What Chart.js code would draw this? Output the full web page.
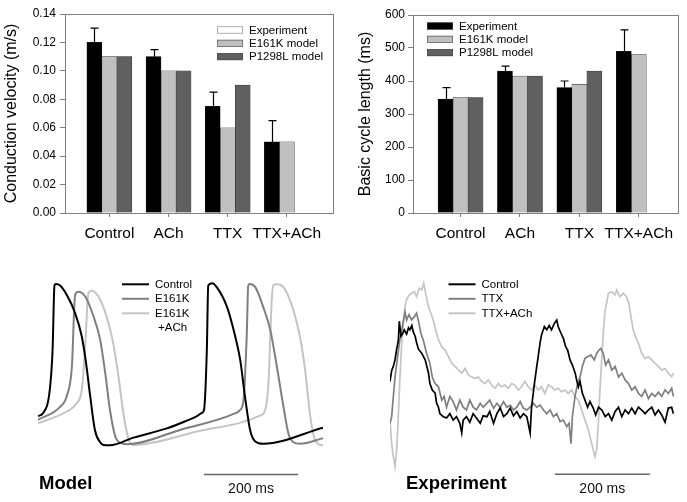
<!DOCTYPE html>
<html>
<head>
<meta charset="utf-8">
<script src="https://cdn.jsdelivr.net/npm/chart.js@4.4.0/dist/chart.umd.min.js"></script>
<style>
  html, body { margin: 0; padding: 0; background: #fff; }
  #wrap { position: relative; width: 687px; height: 502px; overflow: hidden; }
  #wrap canvas { position: absolute; }
</style>
</head>
<body>
<div id="wrap">
  <canvas id="cvChart" width="345" height="250" style="left:0;top:0"></canvas>
  <canvas id="bclChart" width="342" height="250" style="left:345px;top:0"></canvas>
  <canvas id="modelChart" width="345" height="252" style="left:0;top:250px"></canvas>
  <canvas id="expChart" width="342" height="252" style="left:345px;top:250px"></canvas>
</div>
<script>
// ---- données ----
const groups = ['Control', 'ACh', 'TTX', 'TTX+ACh'];
const seriesNames = ['Experiment', 'E161K model', 'P1298L model'];

// vitesse de conduction (m/s)
const cvExp = [0.12, 0.11, 0.075, 0.05];
const cvExpErr = [0.01, 0.005, 0.01, 0.015];
const cvE161K = [0.11, 0.10, 0.06, 0.05];
const cvP1298L = [0.11, 0.10, 0.09, null];
const cvTicks = [0, 0.02, 0.04, 0.06, 0.08, 0.10, 0.12, 0.14];

// longueur de cycle (ms)
const bclExp = [345, 430, 380, 490];
const bclExpErr = [35, 15, 20, 65];
const bclE161K = [350, 415, 390, 480];
const bclP1298L = [350, 415, 430, null];
const bclTicks = [0, 100, 200, 300, 400, 500, 600];

// potentiels d'action modèle [ms, mV]
const modelNames = ['Control', 'E161K', 'E161K\n+ACh'];
const apControl = [[0,-61],[11,-59],[25,-44],[31,-18],[35,24],[38,25],[47,24],[61,18],[79,6],[93,-9],[102,-26],[111,-48],[121,-70],[132,-78],[143,-80],[153,-80],[203,-75],[274,-69],[316,-64],[338,-61],[348,-59],[353,-57],[359,-18],[362,24],[370,25.5],[380,23],[402,10],[416,-5],[430,-24.5],[440,-48],[451,-70],[462,-77.5],[479,-79],[606,-68.5]];
const apE161K = [[0,-63.5],[47,-55],[61,-48],[72,-29],[79,18],[86,20],[100,17],[118,4],[132,-11],[143,-33],[153,-57],[164,-74],[175,-78.5],[189,-79.3],[302,-70],[416,-59.6],[430,-57],[437,-50.5],[444,-7],[447,24],[451,25],[462,23],[479,10],[494,-5],[508,-29],[522,-55],[533,-73],[543,-78],[557,-79],[606,-75.4]];
const apE161KACh = [[0,-65.7],[61,-58],[82,-52.6],[93,-44],[100,-18],[107,19],[114,20.7],[128,17],[146,3.7],[160,-13.6],[171,-35],[181.5,-59],[192,-75.4],[203,-79.8],[338,-71],[472,-60.7],[483,-57],[490,-39.6],[497,14.6],[500.6,24.4],[508,24.8],[522,23],[543,8],[557,-9.3],[568,-31],[579,-61.4],[589,-76.5],[606,-80.4]];

// signaux optiques expérience [ms, fluorescence normalisée %]
const expNames = ['Control', 'TTX', 'TTX+ACh'];
const expControl = [[0,44],[3.5,49],[7,51],[10.5,54],[14,59],[17.5,63],[19.6,72],[23,65],[26,66],[30,68],[35,66],[39,69],[42,68],[46,70],[49,67],[53,65],[56,62],[60,59],[67,57],[74,54],[81,48],[84,43],[89,40],[95,38.5],[98,34],[102,32],[105,29],[112,27.6],[119,27],[126,29],[133,26],[140,27.6],[147,24.5],[151,20],[154,26],[161,27.6],[168,25],[175,29],[182,27],[190,24.5],[196,28],[204,27.6],[210,30],[218,24.5],[225,29],[232,31.6],[239,27.6],[246,29],[253,31.6],[260,28],[267,30],[274,27],[281,29],[288,27.6],[295,20],[298,32],[304,43],[309,51],[312,55.5],[316,62],[319,65.6],[325,69.5],[330,68],[335,70],[340,68],[346,71],[351,72.5],[354,69.5],[360,66.4],[365,64],[370,60],[374,58.6],[379,54],[384,51.6],[390,47.7],[393,44.6],[396.5,41.5],[400,44],[405,38.5],[410.5,35.3],[416,32],[421,34.6],[428,31.5],[433,28.4],[439,32],[446,30.7],[453,27.6],[460,29],[467,26],[474,30],[481,32],[488,27.6],[495,30.7],[502,29],[509,31.6],[516,29],[523,32],[530,30.7],[537,29],[544,30.7],[551,32],[558,28.4],[565,30.7],[572,28.4],[579,25],[586,31.6],[593,32],[596.5,29]];
const expTTX = [[0,24.5],[3.5,27.6],[7,37],[10.5,46],[16,55.5],[21,64],[26,69.5],[31.6,76.4],[35,72.6],[40,75],[45.6,72.6],[51,74],[56,75.7],[60,72],[65,66.4],[70,63.3],[77,57],[84,52.4],[89,46],[95,43],[102,41.5],[109,35.3],[114,37],[119,32],[126,37],[133,34.6],[140,30.7],[147,35.3],[154,32],[161,30.7],[168,35.3],[175,32],[182,30.7],[190,33.8],[196,32],[204,33.8],[210,35.3],[218,31.5],[225,33.8],[232,32],[239,34.6],[246,32],[253,33],[260,30.7],[267,32],[274,34.6],[281,31.5],[288,30.7],[295,32],[302,33.8],[309,32],[316,33],[323,30.7],[330,29],[337,30.7],[344,27.6],[351,29],[358,25.3],[365,26],[372,23],[377,24.5],[381,15],[384,27.6],[389.5,37],[395,43],[400,46],[405,51],[410.5,54.7],[416,55.5],[423,56.3],[430,54],[435,57],[440,58.6],[444,59.4],[449,57],[454,51.6],[460,54],[467,49.3],[474,51],[481,46],[488,47.8],[495,44.7],[502,43],[509,40],[516,41.5],[523,38.4],[530,37],[537,40],[544,36],[551,38.4],[558,37],[565,39],[572,37],[579,40],[586,38.4],[593,40.8],[596.5,37]];
const expTTXACh = [[0,26],[3.5,15],[7,9],[10.5,4.3],[14,12],[17.5,27.6],[21,46],[24.6,61.7],[28,71],[31.6,78.8],[35,82],[40,84],[45.6,85],[51,85.7],[56,83.4],[61,87.3],[66.7,86.5],[71,89.6],[75,85],[81,78.8],[86,75.7],[91,72.6],[96,68],[102,63.3],[109,60],[116,58.6],[123,55.5],[130,52.4],[137,51],[144,49.3],[151,47.8],[158,50],[165,47],[172,46],[179,45.4],[186,46],[193,44],[200,43],[207,44.7],[214,42.3],[221,40.8],[228,43],[235,41.5],[242,42.3],[249,40.8],[256,43],[263,42.3],[270,40],[277,41.5],[284,44],[291,41.5],[298,40],[305,42.3],[312,40],[319,41.5],[326,38.4],[333,42.3],[340,41.5],[347,40],[354,40.8],[361,39.2],[368,40],[375,38.4],[382.5,40],[389.5,37],[396.5,35.3],[403.5,30.7],[410.5,26],[417.5,21.4],[423,16.7],[428,12],[431.6,9],[435,12],[438.6,24.5],[442,40],[445.6,54],[449,66.4],[452.6,77],[456,80.3],[459.6,85],[466.7,85.7],[473.7,84.2],[477,86.5],[484,83.4],[491,85],[498,83.4],[503,80.3],[507.4,74],[512,68],[517,64.8],[523,61.7],[530,57],[537,54.7],[544,55.5],[551,54],[558,52.4],[565,51],[572,49.3],[579,50],[586,47.8],[593,46.2],[596.5,47.8]];

// ---- styles ----
const FONT = '"Liberation Sans", Arial, Helvetica, sans-serif';
const AXIS_GREY = '#808080';
const BAR_COLORS = ['#000000', '#c0c0c0', '#606060'];
const TRACE_COLORS = ['#000000', '#7f7f7f', '#c4c4c4'];
Chart.defaults.font.family = FONT;
Chart.defaults.color = '#000';

function toXY(pairs) {
  return pairs.map(p => ({ x: p[0], y: p[1] }));
}

// cadre gris autour de la zone de tracé
const framePlugin = {
  id: 'frame',
  afterDraw(chart) {
    const a = chart.chartArea, ctx = chart.ctx;
    ctx.save();
    ctx.strokeStyle = AXIS_GREY;
    ctx.lineWidth = 1;
    ctx.strokeRect(Math.round(a.left) + 0.5, Math.round(a.top) + 0.5,
      Math.round(a.right - a.left), Math.round(a.bottom - a.top));
    ctx.restore();
  }
};

// barres d'erreur (vers le haut) sur la série Experiment
function errorBarPlugin(errs) {
  return {
    id: 'errbars',
    afterDatasetsDraw(chart) {
      const meta = chart.getDatasetMeta(0);
      const y = chart.scales.y, ctx = chart.ctx;
      ctx.save();
      ctx.strokeStyle = '#000';
      ctx.lineWidth = 1.2;
      meta.data.forEach((bar, i) => {
        const v = chart.data.datasets[0].data[i].y;
        const top = y.getPixelForValue(v + errs[i]);
        const x = Math.round(bar.x) + 0.5;
        ctx.beginPath();
        ctx.moveTo(x, bar.y);
        ctx.lineTo(x, top);
        ctx.moveTo(x - 4, top);
        ctx.lineTo(x + 4, top);
        ctx.stroke();
      });
      ctx.restore();
    }
  };
}

// légende à boîtes
function boxLegendPlugin(box, firstWhite) {
  return {
    id: 'boxlegend',
    afterDraw(chart) {
      const ctx = chart.ctx;
      ctx.save();
      ctx.font = '11.5px ' + FONT;
      ctx.textBaseline = 'middle';
      chart.data.datasets.forEach((ds, i) => {
        const cy = box.y + i * box.dy;
        ctx.fillStyle = (i === 0 && firstWhite) ? '#ffffff' : ds.backgroundColor;
        ctx.fillRect(box.x, cy - 3.5, box.w, 7);
        ctx.strokeStyle = (i === 0 && firstWhite) ? '#777' : '#444';
        ctx.lineWidth = 0.6;
        ctx.strokeRect(box.x + 0.3, cy - 3.2, box.w - 0.6, 6.4);
        ctx.fillStyle = '#000';
        ctx.fillText(ds.label, box.x + box.w + 6, cy + 0.5);
      });
      ctx.restore();
    }
  };
}

// légende à traits + étiquettes de panneau + barre d'échelle
function traceDecorPlugin(opt) {
  return {
    id: 'tracedecor',
    afterDraw(chart) {
      const ctx = chart.ctx, xs = chart.scales.x, ys = chart.scales.y;
      ctx.save();
      chart.data.datasets.forEach((ds, i) => {
        if (ds.isScale) return;
        const cy = opt.legY + i * opt.legDy;
        ctx.strokeStyle = ds.borderColor;
        ctx.lineWidth = 2;
        ctx.beginPath();
        ctx.moveTo(opt.legX, cy);
        ctx.lineTo(opt.legX + 27, cy);
        ctx.stroke();
        ctx.fillStyle = '#000';
        ctx.font = '11.5px ' + FONT;
        ctx.textBaseline = 'middle';
        const lines = ds.label.split('\n');
        ctx.fillText(lines[0], opt.legX + 33, cy + 0.5);
        if (lines[1]) ctx.fillText(lines[1], opt.legX + 36, cy + 0.5 + opt.legDy);
      });
      // titre du panneau
      ctx.font = 'bold 18.5px ' + FONT;
      ctx.textBaseline = 'alphabetic';
      ctx.textAlign = 'left';
      ctx.fillStyle = '#000';
      ctx.fillText(opt.title, opt.titleX, opt.titleY);
      // texte sous la barre d'échelle
      const midX = xs.getPixelForValue(opt.bar.start + opt.bar.len / 2);
      ctx.font = '14px ' + FONT;
      ctx.textAlign = 'center';
      ctx.fillStyle = '#111';
      ctx.fillText(opt.bar.len + ' ms', midX, opt.barTextY);
      ctx.restore();
    }
  };
}

function barChart(id, cfg) {
  const datasets = [cfg.exp, cfg.e161k, cfg.p1298l].map((vals, i) => ({
    label: seriesNames[i],
    data: vals.map((v, j) => ({ x: j + 1, y: v })),
    backgroundColor: BAR_COLORS[i],
    borderColor: '#222',
    borderWidth: 0.5,
    barThickness: 15
  }));
  return new Chart(document.getElementById(id), {
    type: 'bar',
    data: { datasets },
    options: {
      responsive: false,
      animation: false,
      layout: { padding: cfg.padding },
      plugins: { legend: { display: false }, tooltip: { enabled: false } },
      scales: {
        x: {
          type: 'linear',
          min: cfg.xMin,
          max: cfg.xMax,
          offset: false,
          afterBuildTicks: s => { s.ticks = groups.map((g, i) => ({ value: i + 1 })); },
          ticks: {
            callback: v => groups[v - 1] || '',
            font: { size: 15.5 },
            color: '#000',
            padding: 7,
            maxRotation: 0,
            autoSkip: false
          },
          grid: { drawOnChartArea: false, offset: false, tickLength: 4, color: AXIS_GREY },
          border: { color: AXIS_GREY },
          afterFit: s => { s.height = 37; }
        },
        y: {
          min: cfg.yTicks[0],
          max: cfg.yTicks[cfg.yTicks.length - 1],
          afterBuildTicks: s => { s.ticks = cfg.yTicks.map(v => ({ value: v })); },
          ticks: {
            callback: cfg.fmt,
            font: { size: 12 },
            color: '#000',
            padding: cfg.tickPad
          },
          grid: { drawOnChartArea: false, tickLength: 5, color: AXIS_GREY },
          border: { color: AXIS_GREY },
          title: {
            display: true,
            text: cfg.title,
            font: { size: 16 },
            color: '#000',
            padding: { top: cfg.titlePad, bottom: 0 }
          },
          afterFit: s => { s.width = cfg.yWidth; }
        }
      }
    },
    plugins: [framePlugin, errorBarPlugin(cfg.err), boxLegendPlugin(cfg.legend, cfg.whiteLegend)]
  });
}

barChart('cvChart', {
  exp: cvExp, e161k: cvE161K, p1298l: cvP1298L, err: cvExpErr,
  yTicks: cvTicks, fmt: v => Number(v).toFixed(2),
  title: 'Conduction velocity (m/s)', titlePad: 1.5, yWidth: 65, tickPad: 4,
  xMin: 0.25, xMax: 4.78,
  padding: { left: 0, top: 14, right: 12, bottom: 0 },
  legend: { x: 217, y: 30, dy: 13.3, w: 26 }, whiteLegend: true
});

barChart('bclChart', {
  exp: bclExp, e161k: bclE161K, p1298l: bclP1298L, err: bclExpErr,
  yTicks: bclTicks, fmt: v => String(v),
  title: 'Basic cycle length (ms)', titlePad: 11.4, yWidth: 68, tickPad: 3,
  xMin: 0.2, xMax: 4.66,
  padding: { left: 0, top: 15, right: 9, bottom: 0 },
  legend: { x: 82, y: 26, dy: 13.3, w: 26 }, whiteLegend: false
});

function traceChart(id, cfg) {
  const datasets = cfg.series.map((s, i) => ({
    label: cfg.names[i],
    data: toXY(s),
    borderColor: TRACE_COLORS[i],
    borderWidth: cfg.lw,
    pointRadius: 0,
    fill: false,
    cubicInterpolationMode: cfg.smooth ? 'monotone' : 'default',
    tension: 0
  }));
  // barre d'échelle 200 ms
  datasets.push({
    label: 'scale',
    isScale: true,
    data: [{ x: cfg.bar.start, y: cfg.bar.y }, { x: cfg.bar.start + cfg.bar.len, y: cfg.bar.y }],
    borderColor: '#666',
    borderWidth: 1.6,
    pointRadius: 0,
    clip: false
  });
  return new Chart(document.getElementById(id), {
    type: 'line',
    data: { datasets },
    options: {
      responsive: false,
      animation: false,
      layout: { padding: cfg.padding },
      plugins: { legend: { display: false }, tooltip: { enabled: false } },
      scales: {
        x: { type: 'linear', min: 0, max: cfg.xMax, display: false },
        y: { type: 'linear', min: cfg.yMin, max: cfg.yMax, display: false }
      }
    },
    plugins: [traceDecorPlugin(cfg.decor)]
  });
}

traceChart('modelChart', {
  series: [apControl, apE161K, apE161KACh], names: modelNames,
  lw: 2, smooth: true, xMax: 606, yMin: -100, yMax: 40,
  padding: { left: 38, top: 11, right: 22, bottom: 26 },
  bar: { start: 353, len: 200, y: -99 },
  decor: { legX: 122, legY: 34.3, legDy: 14.5, title: 'Model', titleX: 39, titleY: 239,
           bar: { start: 353, len: 200 }, barTextY: 243 }
});

traceChart('expChart', {
  series: [expControl, expTTX, expTTXACh], names: expNames,
  lw: 1.7, smooth: false, xMax: 600, yMin: 0, yMax: 100,
  padding: { left: 45, top: 11, right: 12, bottom: 26 },
  bar: { start: 347, len: 200, y: 0.8 },
  decor: { legX: 103.5, legY: 34.3, legDy: 14.5, title: 'Experiment', titleX: 61, titleY: 239,
           bar: { start: 347, len: 200 }, barTextY: 243 }
});
</script>
</body>
</html>
